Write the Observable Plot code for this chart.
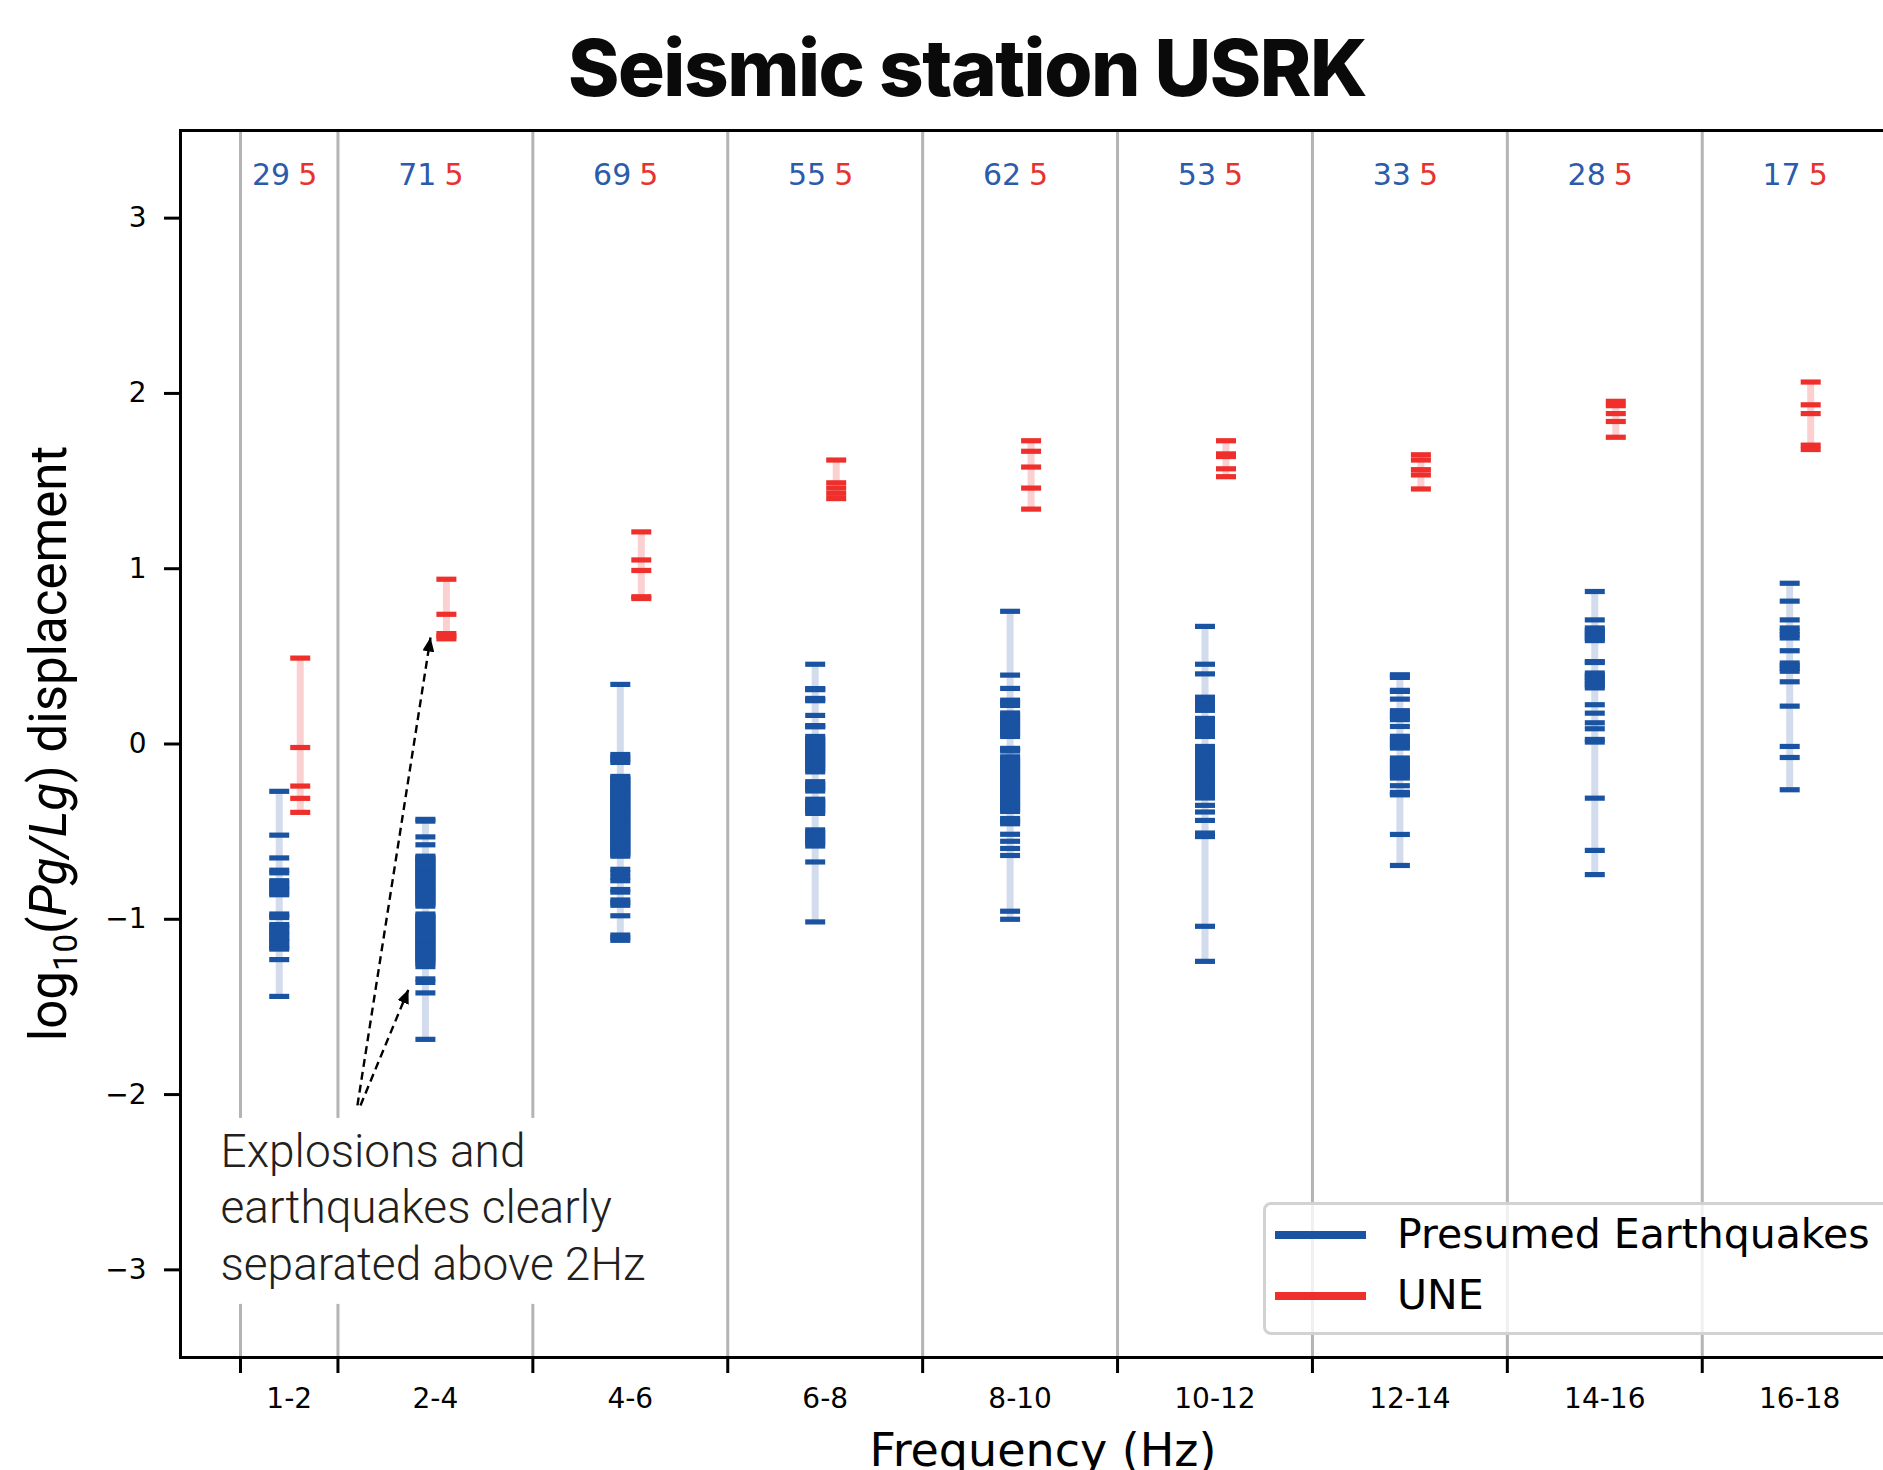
<!DOCTYPE html>
<html>
<head>
<meta charset="utf-8">
<script src="https://cdn.jsdelivr.net/npm/d3@7"></script>
<script src="https://cdn.jsdelivr.net/npm/@observablehq/plot@0.6"></script>
<style>
  html, body { margin: 0; padding: 0; background: #fff; overflow: hidden; width: 1883px; height: 1470px; }
  #wrap { position: relative; width: 1920px; height: 1470px; }
  #title { position: absolute; left: 0; top: 29px; width: 1934px; text-align: center;
           font-family: Inter, sans-serif; font-weight: 800; font-size: 78px; line-height: 1;
           letter-spacing: -1.5px; color: #0a0a0a; }
  #chart { position: absolute; left: 0; top: 100px; }
  #legend { position: absolute; left: 1263px; top: 1202px; width: 640px; height: 127px;
            border: 3px solid #d2d2d2; border-radius: 8px; background: rgba(255,255,255,0.8); }
  #legend .sw { position: absolute; left: 9px; width: 91px; height: 8px; }
  #legend .lb { position: absolute; left: 131px; font-family: 'DejaVu Sans', sans-serif; font-size: 41px;
                line-height: 1; color: #000; white-space: nowrap; }
</style>
</head>
<body>
<div id="wrap">
  <div id="title"></div>
  <div id="chart"></div>
  <div id="legend"></div>
</div>
<script>
// ---------- data ----------
const title = "Seismic station USRK";
const bands = ["1-2", "2-4", "4-6", "6-8", "8-10", "10-12", "12-14", "14-16", "16-18"];
const bandEdges = [1, 2, 4, 6, 8, 10, 12, 14, 16, 18];
const bandMid = [1.5, 3, 5, 7, 9, 11, 13, 15, 17];
const eqCounts = [29, 71, 69, 55, 62, 53, 33, 28, 17];
const uneCounts = [5, 5, 5, 5, 5, 5, 5, 5, 5];
const yTicks = [-3, -2, -1, 0, 1, 2, 3];
const legendLabels = ["Presumed Earthquakes", "UNE"];

const eq_1_2 = [-0.27,-0.52,-0.65,-0.72,-0.735,-0.78,-0.79,-0.81,-0.82,-0.83,-0.85,-0.86,-0.97,-0.98,-0.99,
  -1.03,-1.04,-1.05,-1.07,-1.08,-1.09,-1.11,-1.12,-1.13,-1.15,-1.16,-1.17,-1.23,-1.44];
const eq_2_4 = [-0.43,-0.44,-0.53,-0.575,
  -0.64,-0.648,-0.657,-0.668,-0.676,-0.685,-0.697,-0.705,-0.714,-0.726,-0.733,-0.742,-0.753,-0.761,-0.77,-0.781,
  -0.79,-0.798,-0.81,-0.818,-0.827,-0.838,-0.846,-0.855,-0.866,-0.874,-0.883,-0.895,-0.903,-0.914,-0.925,
  -0.97,-0.979,-0.988,-0.998,-1.006,-1.016,-1.025,-1.034,-1.043,-1.054,-1.062,-1.071,-1.082,-1.09,-1.1,-1.109,
  -1.118,-1.128,-1.137,-1.146,-1.155,-1.165,-1.174,-1.183,-1.193,-1.202,-1.211,-1.221,-1.23,-1.24,-1.253,-1.27,
  -1.34,-1.36,-1.42,-1.685];
const eq_4_6 = [0.34,-0.06,-0.075,-0.09,-0.105,
  -0.185,-0.193,-0.203,-0.211,-0.221,-0.23,-0.239,-0.248,-0.257,-0.266,
  -0.276,-0.284,-0.293,-0.303,-0.311,-0.321,-0.329,-0.339,-0.348,-0.357,
  -0.366,-0.375,-0.384,-0.393,-0.402,-0.411,-0.42,-0.43,-0.438,-0.448,
  -0.457,-0.466,-0.475,-0.484,-0.493,-0.502,-0.511,-0.52,-0.529,-0.538,
  -0.548,-0.557,-0.566,-0.575,-0.584,-0.593,-0.602,-0.611,-0.62,-0.63,-0.64,
  -0.715,-0.735,-0.76,-0.78,-0.83,-0.845,-0.89,-0.905,-0.92,-0.98,-1.09,-1.105,-1.12];
const eq_6_8 = [0.455,0.31,0.313,0.316,0.26,0.253,0.247,0.163,0.105,0.101,0.098,
  0.043,0.032,0.022,0.012,0.002,-0.009,-0.019,-0.03,-0.04,-0.051,-0.061,-0.072,-0.082,-0.093,-0.103,-0.114,-0.124,-0.135,-0.147,-0.159,
  -0.215,-0.225,-0.236,-0.247,-0.257,-0.268,
  -0.315,-0.327,-0.338,-0.349,-0.361,-0.373,-0.385,-0.396,
  -0.49,-0.503,-0.516,-0.529,-0.542,-0.555,-0.568,-0.582,
  -0.673,-1.015];
const eq_8_10 = [0.757,0.393,0.317,0.25,0.235,0.22,
  0.177,0.165,0.153,0.141,0.129,0.116,0.104,0.092,0.08,0.068,0.055,0.043,
  -0.025,-0.032,-0.04,
  -0.073,-0.083,-0.094,-0.104,-0.115,-0.125,-0.135,-0.146,-0.156,-0.166,
  -0.177,-0.187,-0.198,-0.208,-0.218,-0.229,-0.239,-0.249,-0.26,-0.27,
  -0.281,-0.291,-0.301,-0.312,-0.322,-0.333,-0.343,-0.353,-0.364,-0.374,-0.385,
  -0.425,-0.435,-0.445,-0.455,-0.515,-0.555,-0.596,-0.636,-0.954,-1.0];
const eq_10_12 = [0.671,0.455,0.40,
  0.267,0.254,0.242,0.229,0.217,0.204,0.192,
  0.146,0.133,0.12,0.107,0.094,0.081,0.068,0.056,0.043,
  -0.014,-0.025,-0.037,-0.048,-0.059,-0.07,-0.082,-0.093,-0.104,-0.116,
  -0.127,-0.138,-0.149,-0.161,-0.172,-0.183,-0.195,-0.206,-0.217,-0.229,
  -0.24,-0.251,-0.262,-0.274,-0.285,-0.297,-0.308,
  -0.35,-0.388,-0.436,-0.508,-0.528,-1.04,-1.24];
const eq_12_14 = [0.395,0.388,0.38,0.306,0.30,0.256,0.19,0.177,0.164,0.152,0.139,0.10,
  0.044,0.031,0.017,0.004,-0.01,-0.023,
  -0.08,-0.094,-0.109,-0.123,-0.137,-0.151,-0.166,-0.18,-0.194,
  -0.238,-0.276,-0.283,-0.29,-0.516,-0.693];
const eq_14_16 = [0.87,0.708,0.662,0.65,0.638,0.626,0.614,0.602,0.59,0.47,0.465,
  0.405,0.393,0.381,0.369,0.357,0.344,0.332,0.32,0.224,0.176,0.121,0.087,0.026,0.011,
  -0.309,-0.607,-0.745];
const eq_16_18 = [0.917,0.815,0.708,0.662,0.643,0.624,0.605,0.532,0.462,0.447,0.431,0.415,0.355,0.216,-0.014,-0.077,-0.261];

const une_1_2 = [0.49,-0.02,-0.24,-0.31,-0.39];
const une_2_4 = [0.94,0.74,0.63,0.615,0.60];
const une_4_6 = [1.21,1.05,0.99,0.84,0.83];
const une_6_8 = [1.62,1.49,1.46,1.43,1.40];
const une_8_10 = [1.73,1.67,1.58,1.46,1.34];
const une_10_12 = [1.73,1.655,1.64,1.57,1.525];
const une_12_14 = [1.65,1.62,1.565,1.535,1.455];
const une_14_16 = [1.955,1.93,1.885,1.84,1.75];
const une_16_18 = [2.065,1.935,1.885,1.705,1.68];

const annotText = "Explosions and\nearthquakes clearly\nseparated above 2Hz";
const annotAnchor = [{x: 0.795, y: -2.183}];
const annotBox = [{x1: 0.59, x2: 5.42, y1: -2.136, y2: -3.197}];
const annotArrows = [
  {x1: 2.2, y1: -2.062, x2: 2.95, y2: 0.6075},
  {x1: 2.231, y1: -2.062, x2: 2.724, y2: -1.40}
];

// ---------- styles ----------
const BLUE = "#1b53a3", RED = "#ee2f2b";
const BLUE_LIGHT = "#d2dcec", RED_LIGHT = "#fbd0d0";
const BLUE_TXT = "#2b5bab", RED_TXT = "#e8322e";

const eqByBand = [eq_1_2, eq_2_4, eq_4_6, eq_6_8, eq_8_10, eq_10_12, eq_12_14, eq_14_16, eq_16_18];
const uneByBand = [une_1_2, une_2_4, une_4_6, une_6_8, une_8_10, une_10_12, une_12_14, une_14_16, une_16_18];

const eqRows = bands.flatMap((b, i) => eqByBand[i].map(v => ({band: b, x: bandMid[i], v})));
const uneRows = bands.flatMap((b, i) => uneByBand[i].map(v => ({band: b, x: bandMid[i], v})));
const eqRange = bands.map((b, i) => ({x: bandMid[i], lo: d3.min(eqByBand[i]), hi: d3.max(eqByBand[i])}));
const uneRange = bands.map((b, i) => ({x: bandMid[i], lo: d3.min(uneByBand[i]), hi: d3.max(uneByBand[i])}));
const countRows = bands.map((b, i) => ({x: bandMid[i], eq: String(eqCounts[i]), une: String(uneCounts[i])}));

const hbar = {draw(context) { context.rect(-10, -2.6, 20, 5.2); }};
const intFmt = d3.format("d");

document.getElementById("title").textContent = title;

const chart = Plot.plot({
  width: 1920, height: 1370,
  marginTop: 30, marginBottom: 113, marginLeft: 180, marginRight: 14,
  style: {fontFamily: "'DejaVu Sans', sans-serif", fontSize: "28px", color: "black", background: "white"},
  x: {domain: [0.3843, 18.096], label: null},
  y: {domain: [-3.5, 3.5], label: null},
  marks: [
    Plot.ruleX(bandEdges, {stroke: "#b4b4b4", strokeWidth: 3}),
    Plot.rect(annotBox, {x1: "x1", x2: "x2", y1: "y1", y2: "y2", fill: "white"}),
    Plot.ruleX(eqRange, {x: "x", y1: "lo", y2: "hi", dx: -10, stroke: BLUE_LIGHT, strokeWidth: 7}),
    Plot.ruleX(uneRange, {x: "x", y1: "lo", y2: "hi", dx: 11, stroke: RED_LIGHT, strokeWidth: 7}),
    Plot.dot(eqRows, {x: "x", y: "v", dx: -10, symbol: hbar, fill: BLUE, stroke: null}),
    Plot.dot(uneRows, {x: "x", y: "v", dx: 11, symbol: hbar, fill: RED, stroke: null}),
    Plot.text(countRows, {x: "x", text: "eq", frameAnchor: "top", dy: 33, textAnchor: "end", dx: 1, fill: BLUE_TXT, fontSize: 30}),
    Plot.text(countRows, {x: "x", text: "une", frameAnchor: "top", dy: 33, textAnchor: "start", dx: 9, fill: RED_TXT, fontSize: 30}),
    Plot.text(annotAnchor, {x: "x", y: "y", text: () => annotText, textAnchor: "start", lineAnchor: "top",
      lineHeight: 1.23, fontSize: 46, fontFamily: "Roboto", fontWeight: 300, fill: "#231f20"}),
    Plot.link(annotArrows, {x1: "x1", y1: "y1", x2: "x2", y2: "y2", stroke: "black", strokeWidth: 2.4,
      strokeDasharray: "8,5"}),
    Plot.frame({stroke: "black", strokeWidth: 3}),
    Plot.axisY(yTicks, {tickSize: 16, tickPadding: 18, strokeWidth: 3, fontSize: 28, label: null, tickFormat: intFmt}),
    Plot.axisX(bandEdges, {tickSize: 16, tickFormat: () => "", strokeWidth: 3, label: null}),
    Plot.axisX(bandMid, {tickSize: 0, tickPadding: 31, fontSize: 28, label: null,
      tickFormat: d => bands[bandMid.indexOf(d)]})
  ]
});

document.getElementById("chart").appendChild(chart);

// arrowheads for annotation
const svg = d3.select(chart);
const defs = svg.append("defs");
defs.append("marker").attr("id", "ah").attr("markerUnits", "userSpaceOnUse")
  .attr("markerWidth", 16).attr("markerHeight", 12).attr("refX", 14).attr("refY", 6).attr("orient", "auto")
  .append("path").attr("d", "M0,0L14,6L0,12Z").attr("fill", "black").attr("stroke", "none");
svg.selectAll('g[aria-label="link"] path').attr("marker-end", "url(#ah)");

// axis labels
const ys = chart.scale("y"), xs = chart.scale("x");
const yMid = ys.apply(0);
const ylab = svg.append("text")
  .attr("transform", `translate(66,${yMid}) rotate(-90)`)
  .attr("text-anchor", "middle")
  .attr("font-family", "Roboto, sans-serif").attr("font-size", 51).attr("fill", "#000");
ylab.append("tspan").text("log");
ylab.append("tspan").attr("font-size", 33).attr("dy", 11).text("10");
ylab.append("tspan").attr("dy", -11).text("(");
ylab.append("tspan").attr("font-style", "italic").text("Pg/Lg");
ylab.append("tspan").text(") displacement");

const xr = xs.range;
svg.append("text")
  .attr("x", (xr[0] + xr[1]) / 2).attr("y", 1366)
  .attr("text-anchor", "middle").attr("font-family", "'DejaVu Sans', sans-serif")
  .attr("font-size", 46).attr("fill", "#000").text("Frequency (Hz)");

// legend
const legend = d3.select("#legend");
const legendColors = [BLUE, RED];
legendLabels.forEach((lab, i) => {
  legend.append("div").attr("class", "sw").style("top", (26 + i * 61) + "px").style("background", legendColors[i]);
  legend.append("div").attr("class", "lb").style("top", (9 + i * 61) + "px").text(lab);
});
</script>
</body>
</html>
